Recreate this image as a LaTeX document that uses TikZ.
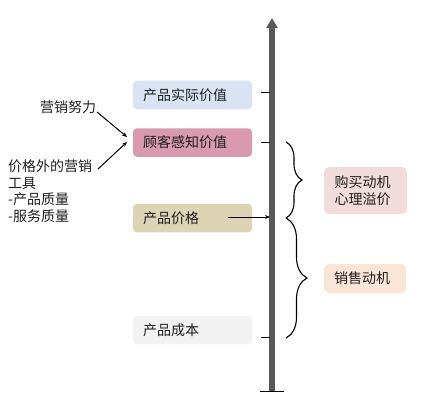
\documentclass[tikz,border=0pt]{standalone}
\usepackage{fontspec}
\setmainfont{Noto Sans CJK SC}
\usetikzlibrary{arrows.meta,decorations.pathreplacing}
\definecolor{bblue}{HTML}{DAE3F3}
\definecolor{bpink}{HTML}{D99AAF}
\definecolor{btan}{HTML}{DDD3B5}
\definecolor{bgray}{HTML}{F2F2F2}
\definecolor{rpink}{HTML}{F2DCDB}
\definecolor{rpeach}{HTML}{FBE5D6}
\definecolor{axgray}{HTML}{595959}
\definecolor{txt}{HTML}{1E1E1E}
\begin{document}
\begin{tikzpicture}[x=1pt,y=-1pt,
  every node/.style={font=\fontsize{14}{16.7}\selectfont, text=txt},
  lbox/.style={rounded corners=4pt, minimum width=119pt, minimum height=28.5pt, inner sep=0pt, text width=99pt, align=left},
  rbox/.style={rounded corners=5pt, inner sep=0pt, text width=62pt, align=left},
  tick/.style={line width=1pt, black},
  sarrow/.style={line width=1pt, black, -{Stealth[length=5pt,width=4pt]}},
  bracestyle/.style={line width=1.1pt, black, decorate}
]
\useasboundingbox (0,0) rectangle (438,417);
% axis
\coordinate (axb) at (272,391);
\coordinate (axt) at (272,18);
\draw[axgray, line width=6pt, -{Triangle[width=11pt,length=10pt]}] (axb) -- (axt);
\coordinate (bl) at (260,391);
\coordinate (br) at (284,391);
\draw[tick] (bl) -- (br);
% left boxes
\node[lbox, fill=bblue] (b1) at (192.5,95) {产品实际价值};
\node[lbox, fill=bpink] (b2) at (192.5,142.5) {顾客感知价值};
\node[lbox, fill=btan] (b3) at (192.5,218) {产品价格};
\node[lbox, fill=bgray] (b4) at (192.5,330) {产品成本};
% ticks
\coordinate (t1a) at (261,93); \coordinate (t1b) at (270,93);
\coordinate (t2a) at (261,142); \coordinate (t2b) at (270,142);
\coordinate (t4a) at (261,337); \coordinate (t4b) at (270,337);
\draw[tick] (t1a) -- (t1b);
\draw[tick] (t2a) -- (t2b);
\draw[tick] (t4a) -- (t4b);
% price arrow
\coordinate (pa) at (228,217);
\coordinate (pb) at (270,217);
\draw[sarrow] (pa) -- (pb);
% braces
\coordinate (br1a) at (286,142);
\coordinate (br1b) at (286,218);
\coordinate (br2b) at (286,338);
\draw[bracestyle, decoration={brace, amplitude=16pt}] (br1a) -- (br1b);
\draw[bracestyle, decoration={brace, amplitude=21pt}] (br1b) -- (br2b);
% right boxes
\node[rbox, fill=rpink, minimum width=83pt, minimum height=47pt] (r1) at (365.5,190.5) {购买动机\\心理溢价};
\node[rbox, fill=rpeach, minimum width=82pt, minimum height=29pt] (r2) at (365,278.5) {销售动机};
% left texts
\node[inner sep=0pt, anchor=center] (m1) at (68,107) {营销努力};
\node[inner sep=0pt, anchor=north west, align=left] (m2) at (8,159.5) {价格外的营销\\工具\\-产品质量\\-服务质量};
\coordinate (m1s) at (97,112);
\coordinate (m2s) at (98,169);
\coordinate (e1) at (127,137);
\coordinate (e2) at (127,142);
\draw[sarrow] (m1s) -- (e1);
\draw[sarrow] (m2s) -- (e2);
\end{tikzpicture}
\end{document}
